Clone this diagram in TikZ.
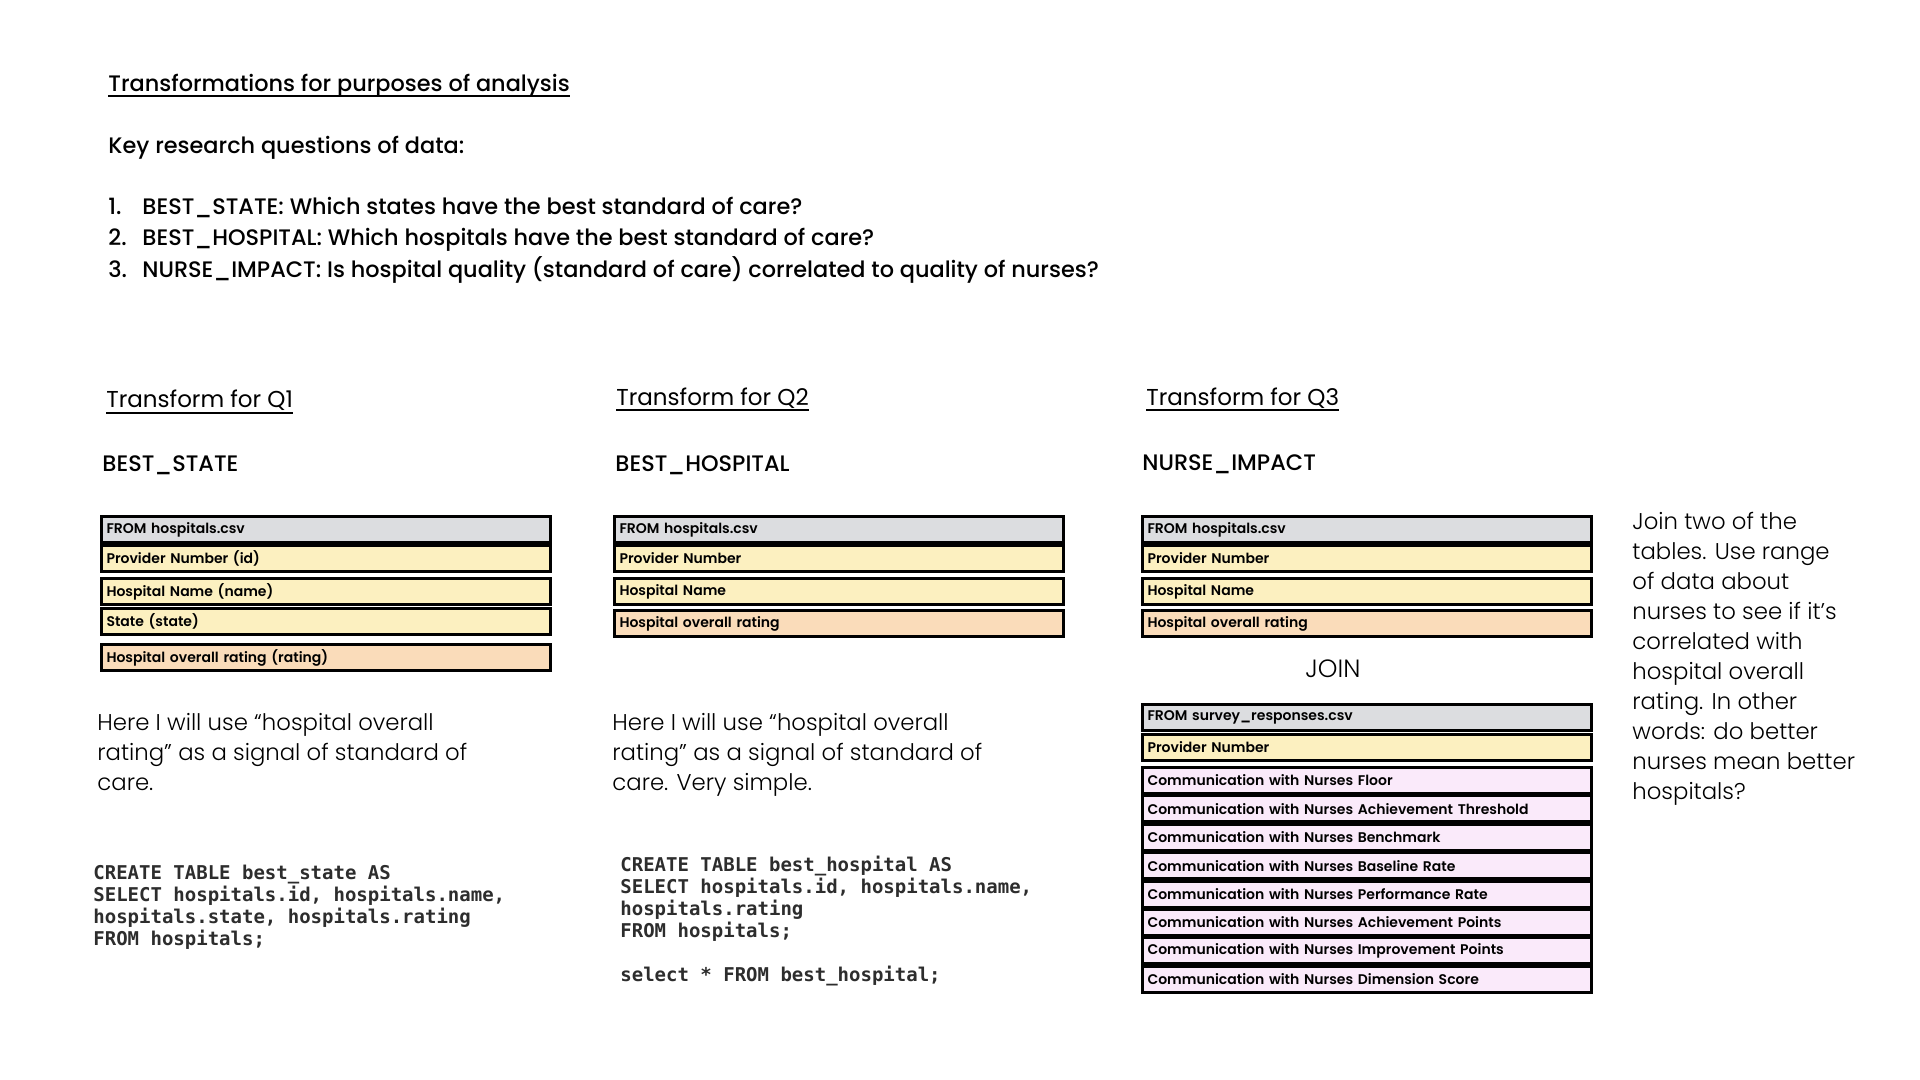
\documentclass[tikz,border=0pt]{standalone}
\usepackage{fontspec}
\setmainfont{Poppins}
\IfFontExistsTF{Poppins Medium}{\newfontfamily\medfont{Poppins Medium}}{\newfontfamily\medfont{Poppins}[FakeBold=1.2]}
\IfFontExistsTF{Poppins SemiBold}{\newfontfamily\semifont{Poppins SemiBold}}{\newfontfamily\semifont{Poppins}[FakeBold=2]}
\IfFontExistsTF{Poppins Light}{\newfontfamily\lightfont{Poppins Light}}{\newfontfamily\lightfont{Poppins}}
\setmonofont{DejaVu Sans Mono}
\usepackage{tikz}
\definecolor{hdrgray}{RGB}{220,221,224}
\definecolor{keyyellow}{RGB}{252,240,192}
\definecolor{ratepeach}{RGB}{250,220,186}
\definecolor{nurselav}{RGB}{250,234,250}
\definecolor{codegray}{RGB}{45,45,45}
\tikzset{
  heading/.style={anchor=base west, inner sep=0pt, font=\medfont\fontsize{11.2}{13}\selectfont},
  qtitle/.style={anchor=base west, inner sep=0pt, font=\fontsize{11.5}{14}\selectfont},
  tname/.style={anchor=base west, inner sep=0pt, font=\medfont\fontsize{11.2}{13}\selectfont},
  note/.style={anchor=base west, inner sep=0pt, align=left, font=\lightfont\fontsize{11.4}{15}\selectfont},
  sqlcode/.style={anchor=base west, inner sep=0pt, align=left, text=codegray, font=\ttfamily\bfseries\fontsize{9.5}{11}\selectfont},
  cell/.style={draw=black, line width=1.5pt, outer sep=0.75pt, anchor=north west,
    minimum height=13pt, text width=219.5pt, inner xsep=2.5pt, inner ysep=0pt, align=left,
    font=\semifont\fontsize{7}{8}\selectfont},
  under/.style={line width=0.6pt}
}
\begin{document}
\begin{tikzpicture}[x=0.5pt,y=-0.5pt]
\fill[white] (0,0) rectangle (1920,1080);
\useasboundingbox (0,0) rectangle (1920,1080);

\node[heading] (title) at (108,92) {Transformations for purposes of analysis};
\draw[under] ([yshift=-2pt]title.base west) -- ([yshift=-2pt]title.base east);
\node[heading] (keyq) at (108,154) {Key research questions of data:};
\node[heading] (n1) at (108,215) {1.};
\node[heading] (q1) at (142,215) {BEST\_STATE: Which states have the best standard of care?};
\node[heading] (n2) at (108,246) {2.};
\node[heading] (q2) at (142,246) {BEST\_HOSPITAL: Which hospitals have the best standard of care?};
\node[heading] (n3) at (108,278) {3.};
\node[heading] (q3) at (142,278) {NURSE\_IMPACT: Is hospital quality (standard of care) correlated to quality of nurses?};

\node[qtitle] (tq1) at (106,408) {Transform for Q1};
\draw[under] ([yshift=-2.5pt]tq1.base west) -- ([yshift=-2.5pt]tq1.base east);
\node[tname] (bs) at (102,471) {BEST\_STATE};
\node[cell, fill=hdrgray] (bsfrom) at (100,515) {FROM hospitals.csv};
\node[cell, fill=keyyellow] (bsid) at (100,544) {Provider Number (id)};
\node[cell, fill=keyyellow] (bsname) at (100,577) {Hospital Name (name)};
\node[cell, fill=keyyellow] (bsstate) at (100,607) {State (state)};
\node[cell, fill=ratepeach] (bsrate) at (100,643) {Hospital overall rating (rating)};
\node[note] (bsnote) at (97,790) {Here I will use “hospital overall\\rating” as a signal of standard of\\care.};
\node[sqlcode] (bssql) at (93,945) {CREATE TABLE best\_state AS\\SELECT hospitals.id, hospitals.name,\\hospitals.state, hospitals.rating\\FROM hospitals;};

\node[qtitle] (tq2) at (616,405) {Transform for Q2};
\draw[under] ([yshift=-2.5pt]tq2.base west) -- ([yshift=-2.5pt]tq2.base east);
\node[tname] (bh) at (615,471) {BEST\_HOSPITAL};
\node[cell, fill=hdrgray] (bhfrom) at (613,515) {FROM hospitals.csv};
\node[cell, fill=keyyellow] (bhid) at (613,544) {Provider Number};
\node[cell, fill=keyyellow] (bhname) at (613,577) {Hospital Name};
\node[cell, fill=ratepeach] (bhrate) at (613,609) {Hospital overall rating};
\node[note] (bhnote) at (612,790) {Here I will use “hospital overall\\rating” as a signal of standard of\\care. Very simple.};
\node[sqlcode] (bhsql) at (620,981) {CREATE TABLE best\_hospital AS\\SELECT hospitals.id, hospitals.name,\\hospitals.rating\\FROM hospitals;\\\\select * FROM best\_hospital;};

\node[qtitle] (tq3) at (1146,405) {Transform for Q3};
\draw[under] ([yshift=-2.5pt]tq3.base west) -- ([yshift=-2.5pt]tq3.base east);
\node[tname] (ni) at (1142,470) {NURSE\_IMPACT};
\node[cell, fill=hdrgray] (nifrom) at (1141,515) {FROM hospitals.csv};
\node[cell, fill=keyyellow] (niid) at (1141,544) {Provider Number};
\node[cell, fill=keyyellow] (niname) at (1141,577) {Hospital Name};
\node[cell, fill=ratepeach] (nirate) at (1141,609) {Hospital overall rating};
\node[font=\lightfont\fontsize{12.5}{14}\selectfont, inner sep=0pt] (join) at (1333,669) {JOIN};
\node[cell, fill=hdrgray] (svfrom) at (1141,703) {FROM survey\_responses.csv};
\node[cell, fill=keyyellow] (svid) at (1141,733) {Provider Number};
\node[cell, fill=nurselav] (cfloor) at (1141,766) {Communication with Nurses Floor};
\node[cell, fill=nurselav] (cthres) at (1141,794.4) {Communication with Nurses Achievement Threshold};
\node[cell, fill=nurselav] (cbench) at (1141,822.8) {Communication with Nurses Benchmark};
\node[cell, fill=nurselav] (cbase) at (1141,851.2) {Communication with Nurses Baseline Rate};
\node[cell, fill=nurselav] (cperf) at (1141,879.6) {Communication with Nurses Performance Rate};
\node[cell, fill=nurselav] (cachp) at (1141,908) {Communication with Nurses Achievement Points};
\node[cell, fill=nurselav] (cimpp) at (1141,936.4) {Communication with Nurses Improvement Points};
\node[cell, fill=nurselav] (cdim) at (1141,964.8) {Communication with Nurses Dimension Score};

\node[note] (joinnote) at (1632,799) {Join two of the\\tables. Use range\\of data about\\nurses to see if it’s\\correlated with\\hospital overall\\rating. In other\\words: do better\\nurses mean better\\hospitals?};
\end{tikzpicture}
\end{document}
